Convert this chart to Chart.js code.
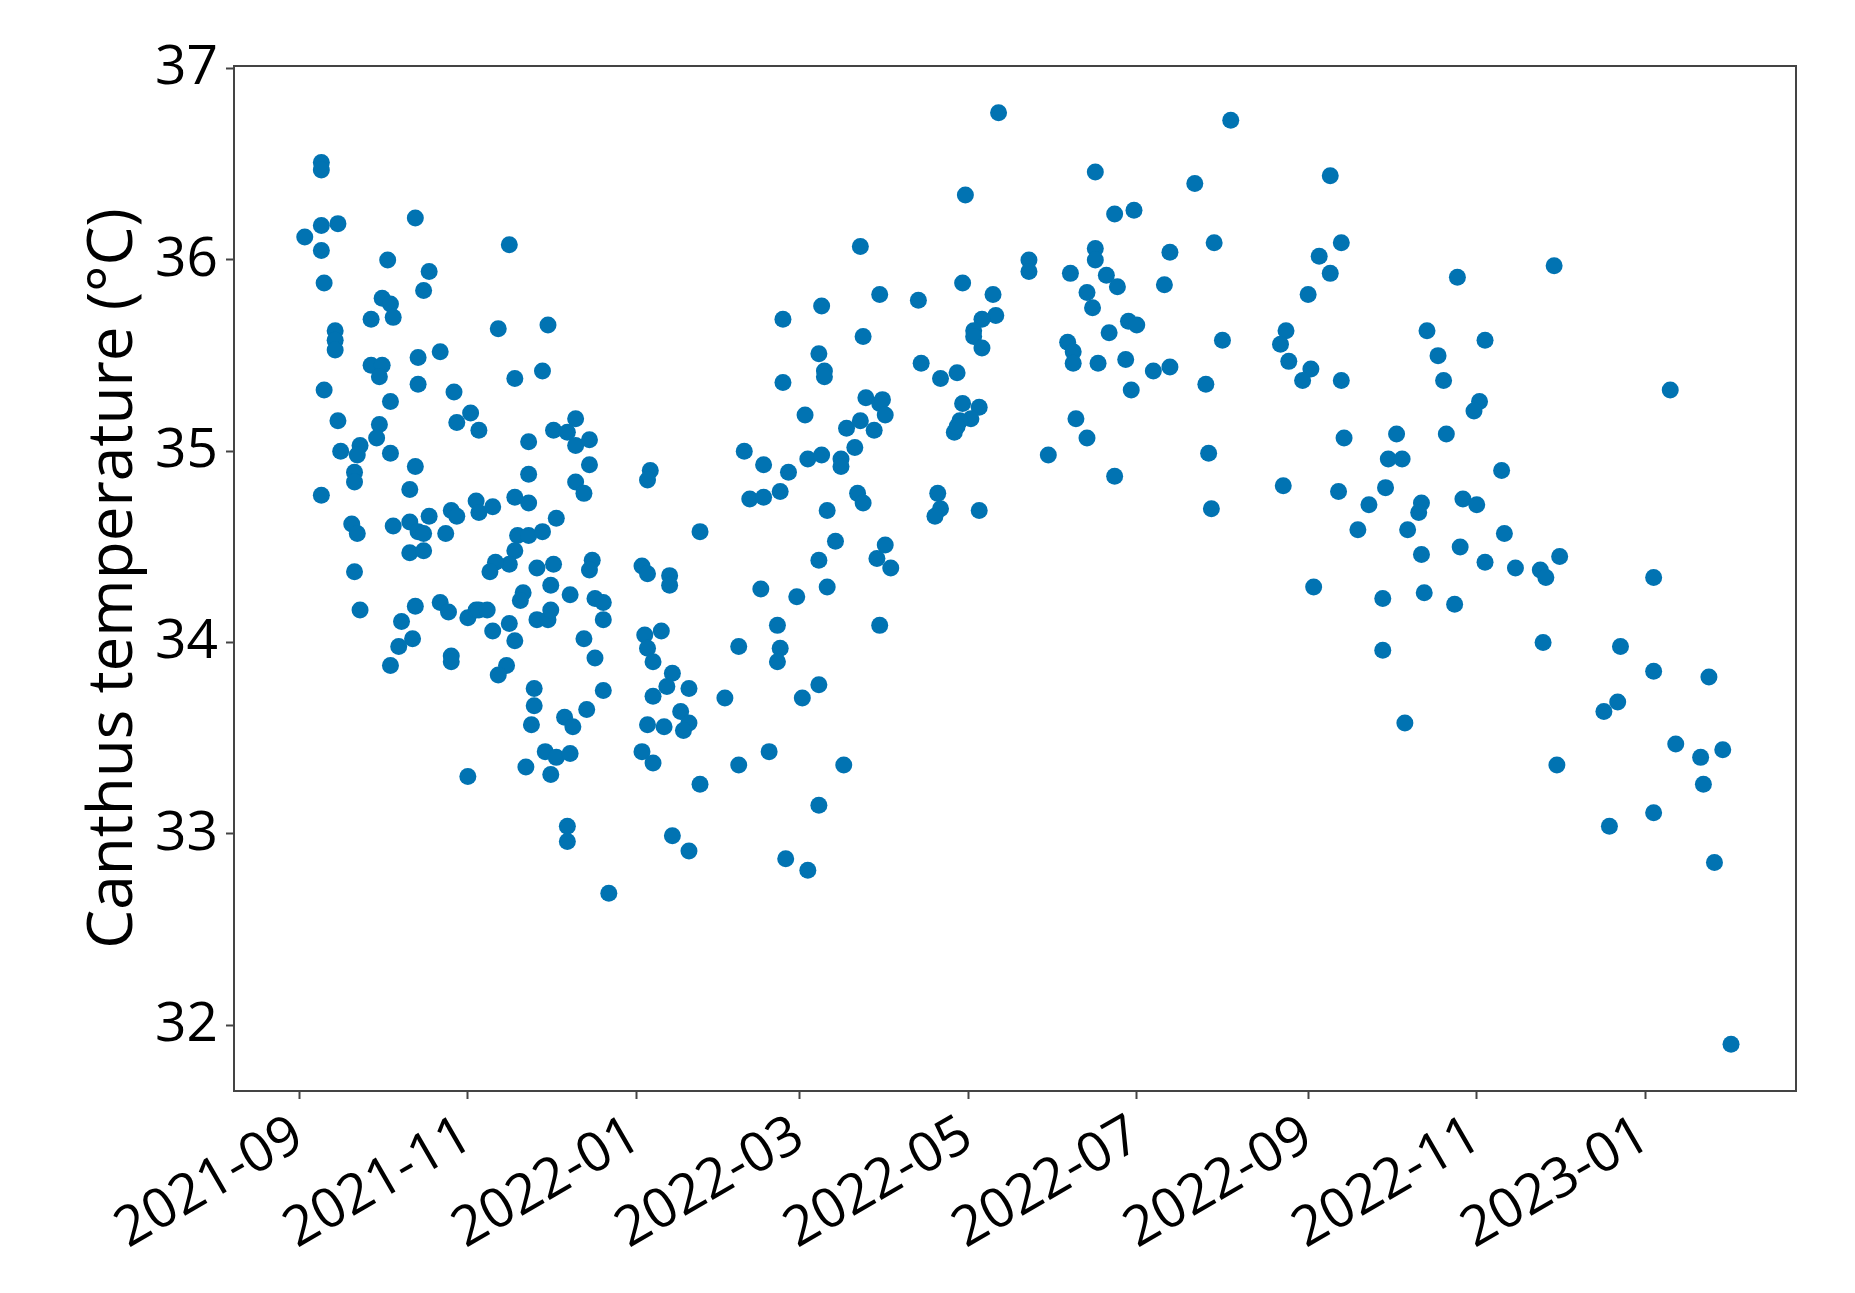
<!DOCTYPE html>
<html>
<head>
<meta charset="utf-8">
<title>Canthus temperature</title>
<script src="https://cdn.jsdelivr.net/npm/chart.js@4.4.0/dist/chart.umd.min.js"></script>
<style>
  html, body { margin: 0; padding: 0; background: #fff; }
  canvas { display: block; }
</style>
</head>
<body>
<canvas id="myChart" width="1855" height="1293"></canvas>
<script>
// measurement days are stored as offsets (days) from startDate
const startDate = [2021, 9, 1];

const dayOffset = [
    // Sep - mid Dec 2021
    8, 8, 42, 8, 14, 2, 8, 76, 32, 47,
    9, 45, 30, 33, 26, 34, 13, 13, 13, 72,
    90, 51, 43, 26, 30, 29, 88, 78, 43, 9,
    56, 33, 62, 57, 65, 14, 29, 28, 100, 92,
    97, 100, 105, 83, 83, 105, 100, 103, 15, 22,
    21, 33, 20, 20, 42, 40, 8, 19, 21, 34,
    40, 43, 47, 45, 40, 45, 53, 55, 57, 64,
    65, 70, 78, 83, 93, 79, 83, 88, 78, 76,
    71, 69, 86, 92, 20, 106, 105,
    // lower part of the same period
    22, 42, 37, 51, 54, 61, 64, 65, 68, 81,
    80, 91, 98, 107, 110, 70, 76, 78, 86, 90,
    91, 103, 107, 41, 36, 33, 55, 55, 75, 72,
    85, 85, 84, 96, 99, 104, 89, 93, 98, 82,
    91, 61, 97, 97,
    // Jan - Mar 2022
    203, 210, 189, 175, 204, 188, 190, 190, 175, 205,
    210, 211, 212, 183, 198, 203, 208, 201, 161, 168,
    177, 184, 189, 196, 196, 202, 204, 163, 168, 174,
    191, 194, 188, 209, 212, 214, 127, 126, 145, 124,
    126, 134, 134,
    167, 180, 191, 210, 173, 159, 174, 173, 188, 182,
    154, 110, 110, 125, 131, 126, 128, 135, 133, 128,
    141, 126, 132, 138, 141, 139, 124, 128, 145, 159,
    170, 197, 188, 135, 141, 176, 184, 112,
    // Apr - Jul 2022
    253, 288, 241, 295, 302, 324, 264, 264, 288, 288,
    279, 292, 296, 315, 313, 285, 287, 240, 251, 224,
    252, 247, 244, 244, 247, 300, 303, 293, 278, 280,
    280, 289, 299, 309, 315, 301, 225, 232, 238, 240,
    246, 243, 239, 237, 238, 281, 285, 271, 295, 231,
    232, 230, 246,
    // Jul - Nov 2022
    337, 373, 331, 377, 369, 373, 365, 419, 334, 357,
    355, 358, 366, 363, 377, 328, 408, 429, 412, 414,
    427, 425, 378, 397, 415, 329, 394, 399, 356, 376,
    393, 387, 406, 405, 421, 426, 330, 383, 401, 420,
    406, 429, 367, 392, 407, 418, 392, 400,
    // Nov 2022 - Feb 2023
    454, 496, 435, 436, 456, 440, 449, 451, 490, 450,
    478, 490, 510, 477, 472, 498, 507, 515, 508, 455,
    490, 474, 512, 518
];

const canthusTemp = [
    36.51, 36.47, 36.22, 36.18, 36.19, 36.12, 36.05, 36.08, 36.00, 35.94,
    35.88, 35.84, 35.80, 35.77, 35.69, 35.70, 35.63, 35.58, 35.53, 35.64,
    35.66, 35.52, 35.49, 35.45, 35.45, 35.39, 35.42, 35.38, 35.35, 35.32,
    35.31, 35.26, 35.20, 35.15, 35.11, 35.16, 35.14, 35.07, 35.17, 35.11,
    35.10, 35.03, 35.06, 35.05, 34.88, 34.93, 34.84, 34.78, 35.00, 35.03,
    34.98, 34.99, 34.89, 34.84, 34.92, 34.80, 34.77, 34.62, 34.57, 34.61,
    34.63, 34.58, 34.66, 34.57, 34.47, 34.48, 34.57, 34.69, 34.66, 34.74,
    34.68, 34.71, 34.76, 34.73, 34.65, 34.56, 34.56, 34.58, 34.48, 34.41,
    34.42, 34.37, 34.39, 34.41, 34.37, 34.43, 34.38,

    34.17, 34.19, 34.11, 34.21, 34.16, 34.13, 34.17, 34.17, 34.17, 34.26,
    34.22, 34.30, 34.25, 34.23, 34.21, 34.06, 34.10, 34.01, 34.12, 34.12,
    34.17, 34.02, 33.92, 34.02, 33.98, 33.88, 33.93, 33.90, 33.88, 33.83,
    33.76, 33.67, 33.57, 33.61, 33.56, 33.65, 33.43, 33.40, 33.42, 33.35,
    33.31, 33.30, 33.04, 32.96,

    36.07, 35.82, 35.76, 35.69, 35.60, 35.51, 35.42, 35.39, 35.36, 35.28,
    35.25, 35.27, 35.19, 35.19, 35.12, 35.16, 35.11, 35.02, 35.00, 34.93,
    34.89, 34.96, 34.98, 34.96, 34.92, 34.78, 34.73, 34.75, 34.76, 34.79,
    34.69, 34.53, 34.43, 34.44, 34.51, 34.39, 34.90, 34.85, 34.58, 34.40,
    34.36, 34.35, 34.30,
    34.28, 34.24, 34.29, 34.09, 34.09, 33.98, 33.97, 33.90, 33.78, 33.71,
    33.71, 34.12, 33.75, 34.04, 34.06, 33.97, 33.90, 33.84, 33.77, 33.72,
    33.76, 33.57, 33.56, 33.64, 33.58, 33.54, 33.43, 33.37, 33.26, 33.36,
    33.43, 33.36, 33.15, 32.99, 32.91, 32.87, 32.81, 32.69,

    36.77, 36.46, 36.34, 36.24, 36.26, 36.40, 36.00, 35.94, 36.06, 36.00,
    35.93, 35.92, 35.86, 36.04, 35.87, 35.83, 35.75, 35.88, 35.82, 35.79,
    35.71, 35.69, 35.63, 35.60, 35.54, 35.68, 35.66, 35.62, 35.57, 35.52,
    35.46, 35.46, 35.48, 35.42, 35.44, 35.32, 35.46, 35.38, 35.41, 35.25,
    35.23, 35.17, 35.16, 35.10, 35.13, 35.17, 35.07, 34.98, 34.87, 34.78,
    34.70, 34.66, 34.69,

    36.73, 36.44, 36.09, 36.09, 36.02, 35.93, 35.82, 35.91, 35.58, 35.63,
    35.56, 35.47, 35.43, 35.37, 35.37, 35.35, 35.63, 35.58, 35.50, 35.37,
    35.26, 35.21, 35.07, 35.09, 35.09, 34.99, 34.96, 34.96, 34.82, 34.79,
    34.81, 34.72, 34.73, 34.68, 34.75, 34.72, 34.70, 34.59, 34.59, 34.50,
    34.46, 34.42, 34.29, 34.23, 34.26, 34.20, 33.96, 33.58,

    35.97, 35.32, 34.90, 34.57, 34.45, 34.39, 34.38, 34.34, 34.34, 34.00,
    33.98, 33.85, 33.82, 33.69, 33.64, 33.47, 33.40, 33.44, 33.26, 33.36,
    33.11, 33.04, 32.85, 31.90
];

const monthLabels = ['2021-09', '2021-11', '2022-01', '2022-03', '2022-05',
                     '2022-07', '2022-09', '2022-11', '2023-01'];
const tempTicks = [32, 33, 34, 35, 36, 37];

// день от начала измерений для метки "ГГГГ-ММ"
function daysFromStart(label) {
    let parts = label.split('-').map(Number);
    let t0 = Date.UTC(startDate[0], startDate[1] - 1, startDate[2]);
    return (Date.UTC(parts[0], parts[1] - 1, 1) - t0) / 86400000;
}

let points = dayOffset.map((d, i) => ({ x: d, y: canthusTemp[i] }));
let monthTicks = monthLabels.map(daysFromStart);

Chart.defaults.font.family = "'Open Sans', sans-serif";
Chart.defaults.color = '#000';

// рамка вокруг области графика, как в matplotlib
const framePlugin = {
    id: 'frame',
    afterDraw(chart) {
        let a = chart.chartArea;
        let ctx = chart.ctx;
        ctx.save();
        ctx.strokeStyle = '#444';
        ctx.lineWidth = 2;
        ctx.strokeRect(a.left, a.top, a.right - a.left, a.bottom - a.top);
        ctx.restore();
    }
};

let ctx = document.getElementById('myChart').getContext('2d');
let myChart = new Chart(ctx, {
    type: 'scatter',
    data: {
        datasets: [{
            data: points,
            pointRadius: 8.5,
            pointHoverRadius: 8.5,
            pointBackgroundColor: '#0173B2',
            pointBorderWidth: 0
        }]
    },
    options: {
        responsive: false,
        animation: false,
        layout: { padding: { top: 66, right: 59, bottom: 0, left: 0 } },
        plugins: {
            legend: { display: false },
            tooltip: { enabled: false }
        },
        scales: {
            x: {
                type: 'linear',
                min: -23.6,
                max: 541.5,
                afterBuildTicks: axis => { axis.ticks = monthTicks.map(v => ({ value: v })); },
                afterFit: axis => { axis.height = 202; },
                ticks: {
                    callback: (value, index) => monthLabels[index],
                    minRotation: 30,
                    maxRotation: 30,
                    padding: 4,
                    font: { size: 55 },
                    color: '#000'
                },
                grid: { drawOnChartArea: false, tickLength: 8, tickColor: '#444', tickWidth: 2 },
                border: { display: false }
            },
            y: {
                min: 31.656,
                max: 37.014,
                afterBuildTicks: axis => { axis.ticks = tempTicks.map(v => ({ value: v })); },
                afterFit: axis => { axis.width = 234; },
                ticks: {
                    callback: value => value,
                    padding: 8,
                    font: { size: 55 },
                    color: '#000'
                },
                grid: { drawOnChartArea: false, tickLength: 8, tickColor: '#444', tickWidth: 2 },
                border: { display: false },
                title: {
                    display: true,
                    text: 'Canthus temperature (°C)',
                    font: { size: 62 },
                    color: '#000',
                    padding: { top: 77, bottom: 0 }
                }
            }
        }
    },
    plugins: [framePlugin]
});
</script>
</body>
</html>
